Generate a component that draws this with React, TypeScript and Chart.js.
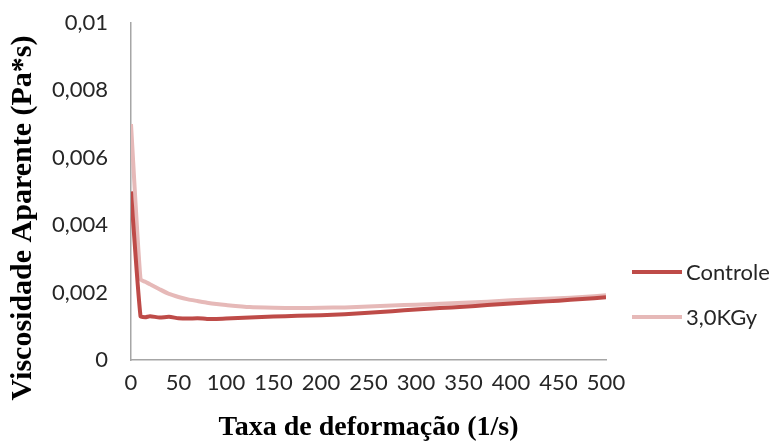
import React, { useEffect, useRef } from "react";
import { Chart, registerables } from "chart.js";

Chart.register(...registerables);

const shearRate = [0, 10, 15, 20, 30, 40, 50, 60, 70, 80, 90, 100, 125, 150, 175, 200, 225, 250, 275, 300, 325, 350, 375, 400, 425, 450, 475, 500];
const controle = [0.005, 0.0013, 0.00127, 0.0013, 0.00126, 0.00128, 0.00124, 0.00123, 0.00124, 0.00122, 0.00122, 0.00123, 0.00126, 0.00129, 0.00131, 0.00133, 0.00136, 0.0014, 0.00145, 0.0015, 0.00154, 0.00158, 0.00163, 0.00168, 0.00172, 0.00176, 0.00181, 0.00186];
const kgy30 = [0.007, 0.0024, 0.00232, 0.00225, 0.0021, 0.00196, 0.00187, 0.0018, 0.00175, 0.0017, 0.00166, 0.00163, 0.00157, 0.00155, 0.00154, 0.00155, 0.00156, 0.00159, 0.00162, 0.00164, 0.00167, 0.0017, 0.00173, 0.00177, 0.0018, 0.00183, 0.00187, 0.00192];
const seriesNames = ["Controle", "3,0KGy"];
const seriesColors = ["#be4b48", "#e6b9b8"];
const xTitle = "Taxa de deformação (1/s)";
const yTitle = "Viscosidade Aparente (Pa*s)";

const tickFont = "Lato";

export default function App() {
  const ref = useRef<HTMLCanvasElement | null>(null);
  useEffect(() => {
    document.body.style.margin = "0";
    const canvas = ref.current!;
    const overlay = {
      id: "overlay",
      afterDraw(chart: any) {
        const ctx = chart.ctx;
        const area = chart.chartArea;
        ctx.save();
        // legend
        const legY = [272, 317];
        chart.data.datasets.forEach((ds: any, i: number) => {
          ctx.strokeStyle = ds.borderColor;
          ctx.lineWidth = 4;
          ctx.beginPath();
          ctx.moveTo(632, legY[i]);
          ctx.lineTo(682, legY[i]);
          ctx.stroke();
          ctx.fillStyle = "#262626";
          ctx.font = `22px ${tickFont}`;
          ctx.textAlign = "left";
          ctx.textBaseline = "middle";
          ctx.fillText(ds.label, 686, legY[i] + 1);
        });
        // axis titles
        ctx.fillStyle = "#000";
        ctx.font = "bold 28px 'Liberation Serif'";
        ctx.textAlign = "center";
        ctx.textBaseline = "middle";
        ctx.fillText(xTitle, (area.left + area.right) / 2, 428);
        ctx.font = "bold 30px 'Liberation Serif'";
        ctx.translate(23, 218);
        ctx.rotate(-Math.PI / 2);
        ctx.fillText(yTitle, 0, 0);
        ctx.restore();
      },
    };
    const chart = new Chart(canvas, {
      type: "line",
      data: {
        datasets: [
          {
            label: seriesNames[0],
            data: shearRate.map((x, i) => ({ x, y: controle[i] })),
            borderColor: seriesColors[0],
            backgroundColor: seriesColors[0],
            borderWidth: 4,
            pointRadius: 0,
            tension: 0.2,
          },
          {
            label: seriesNames[1],
            data: shearRate.map((x, i) => ({ x, y: kgy30[i] })),
            borderColor: seriesColors[1],
            backgroundColor: seriesColors[1],
            borderWidth: 4,
            pointRadius: 0,
            tension: 0.2,
          },
        ],
      },
      options: {
        animation: false,
        responsive: false,
        maintainAspectRatio: false,
        layout: { padding: { top: 23, right: 169, left: 0, bottom: 0 } },
        plugins: { legend: { display: false }, tooltip: { enabled: false } },
        scales: {
          x: {
            type: "linear",
            min: 0,
            max: 500,
            grid: { display: false, drawTicks: false },
            border: { color: "#a6a6a6", width: 1.5 },
            ticks: {
              stepSize: 50,
              padding: 10,
              color: "#262626",
              font: { family: tickFont, size: 22 },
              maxRotation: 0,
            },
            afterFit(scale: any) {
              scale.height = 81;
              scale.paddingLeft = 0;
              scale.paddingRight = 0;
            },
          },
          y: {
            min: 0,
            max: 0.01,
            grid: { display: false, drawTicks: false },
            border: { color: "#a6a6a6", width: 1.5 },
            ticks: {
              stepSize: 0.002,
              padding: 23,
              color: "#262626",
              font: { family: tickFont, size: 22 },
              callback: (v: any) => Number(Number(v).toPrecision(3)).toString().replace(".", ","),
            },
            afterFit(scale: any) {
              scale.width = 131;
              scale.paddingTop = 0;
              scale.paddingBottom = 0;
            },
          },
        },
      },
      plugins: [overlay],
    });
    return () => chart.destroy();
  }, []);
  return (
    <div style={{ position: "absolute", left: 0, top: 0, width: 775, height: 441, background: "#fff" }}>
      <canvas ref={ref} width={775} height={441} style={{ width: 775, height: 441 }} />
    </div>
  );
}
